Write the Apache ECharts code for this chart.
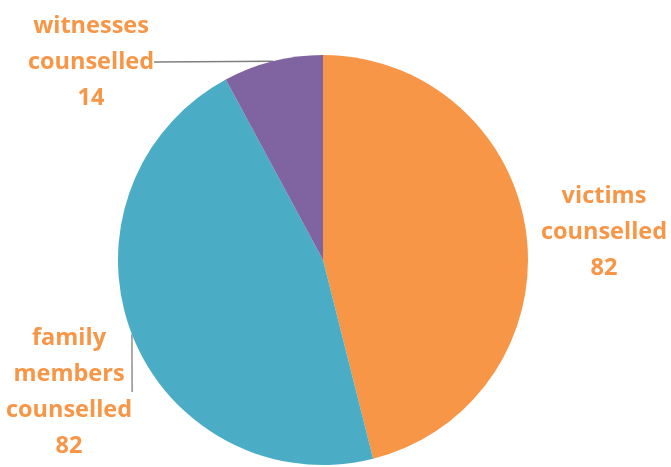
<!DOCTYPE html>
<html><head><meta charset="utf-8">
<script src="https://cdn.jsdelivr.net/npm/echarts@6/dist/echarts.min.js"></script>
<style>html,body{margin:0;padding:0;background:#fff}#c{width:671px;height:467px}</style>
</head><body><div id="c"></div>
<script>
var categories = ['victims\ncounselled', 'family\nmembers\ncounselled', 'witnesses\ncounselled'];
var values = [82, 82, 14];
var colors = ['#F79646', '#4BACC6', '#8064A2'];
var labelPos = [[604, 232], [69, 392], [91, 62]];

var chart = echarts.init(document.getElementById('c'));
chart.setOption({
  animation: false,
  series: [{
    type: 'pie',
    center: [323, 260],
    radius: 205,
    startAngle: 90,
    clockwise: true,
    data: categories.map(function (c, i) {
      return { name: c, value: values[i], itemStyle: { color: colors[i] },
        labelLine: { show: i !== 0 } };
    }),
    label: {
      show: true,
      formatter: '{b}\n{c}',
      color: '#F79646',
      fontFamily: 'Open Sans',
      fontWeight: 'bold',
      fontSize: 23.5,
      lineHeight: 36,
      align: 'center',
      overflow: 'none'
    },
    labelLine: { lineStyle: { color: '#7f7f7f', width: 1.3 }, length: 0, length2: 0 },
    labelLayout: function (p) {
      var pos = labelPos[p.dataIndex];
      return { x: pos[0], y: pos[1], align: 'center', verticalAlign: 'middle' };
    }
  }]
});
</script></body></html>
